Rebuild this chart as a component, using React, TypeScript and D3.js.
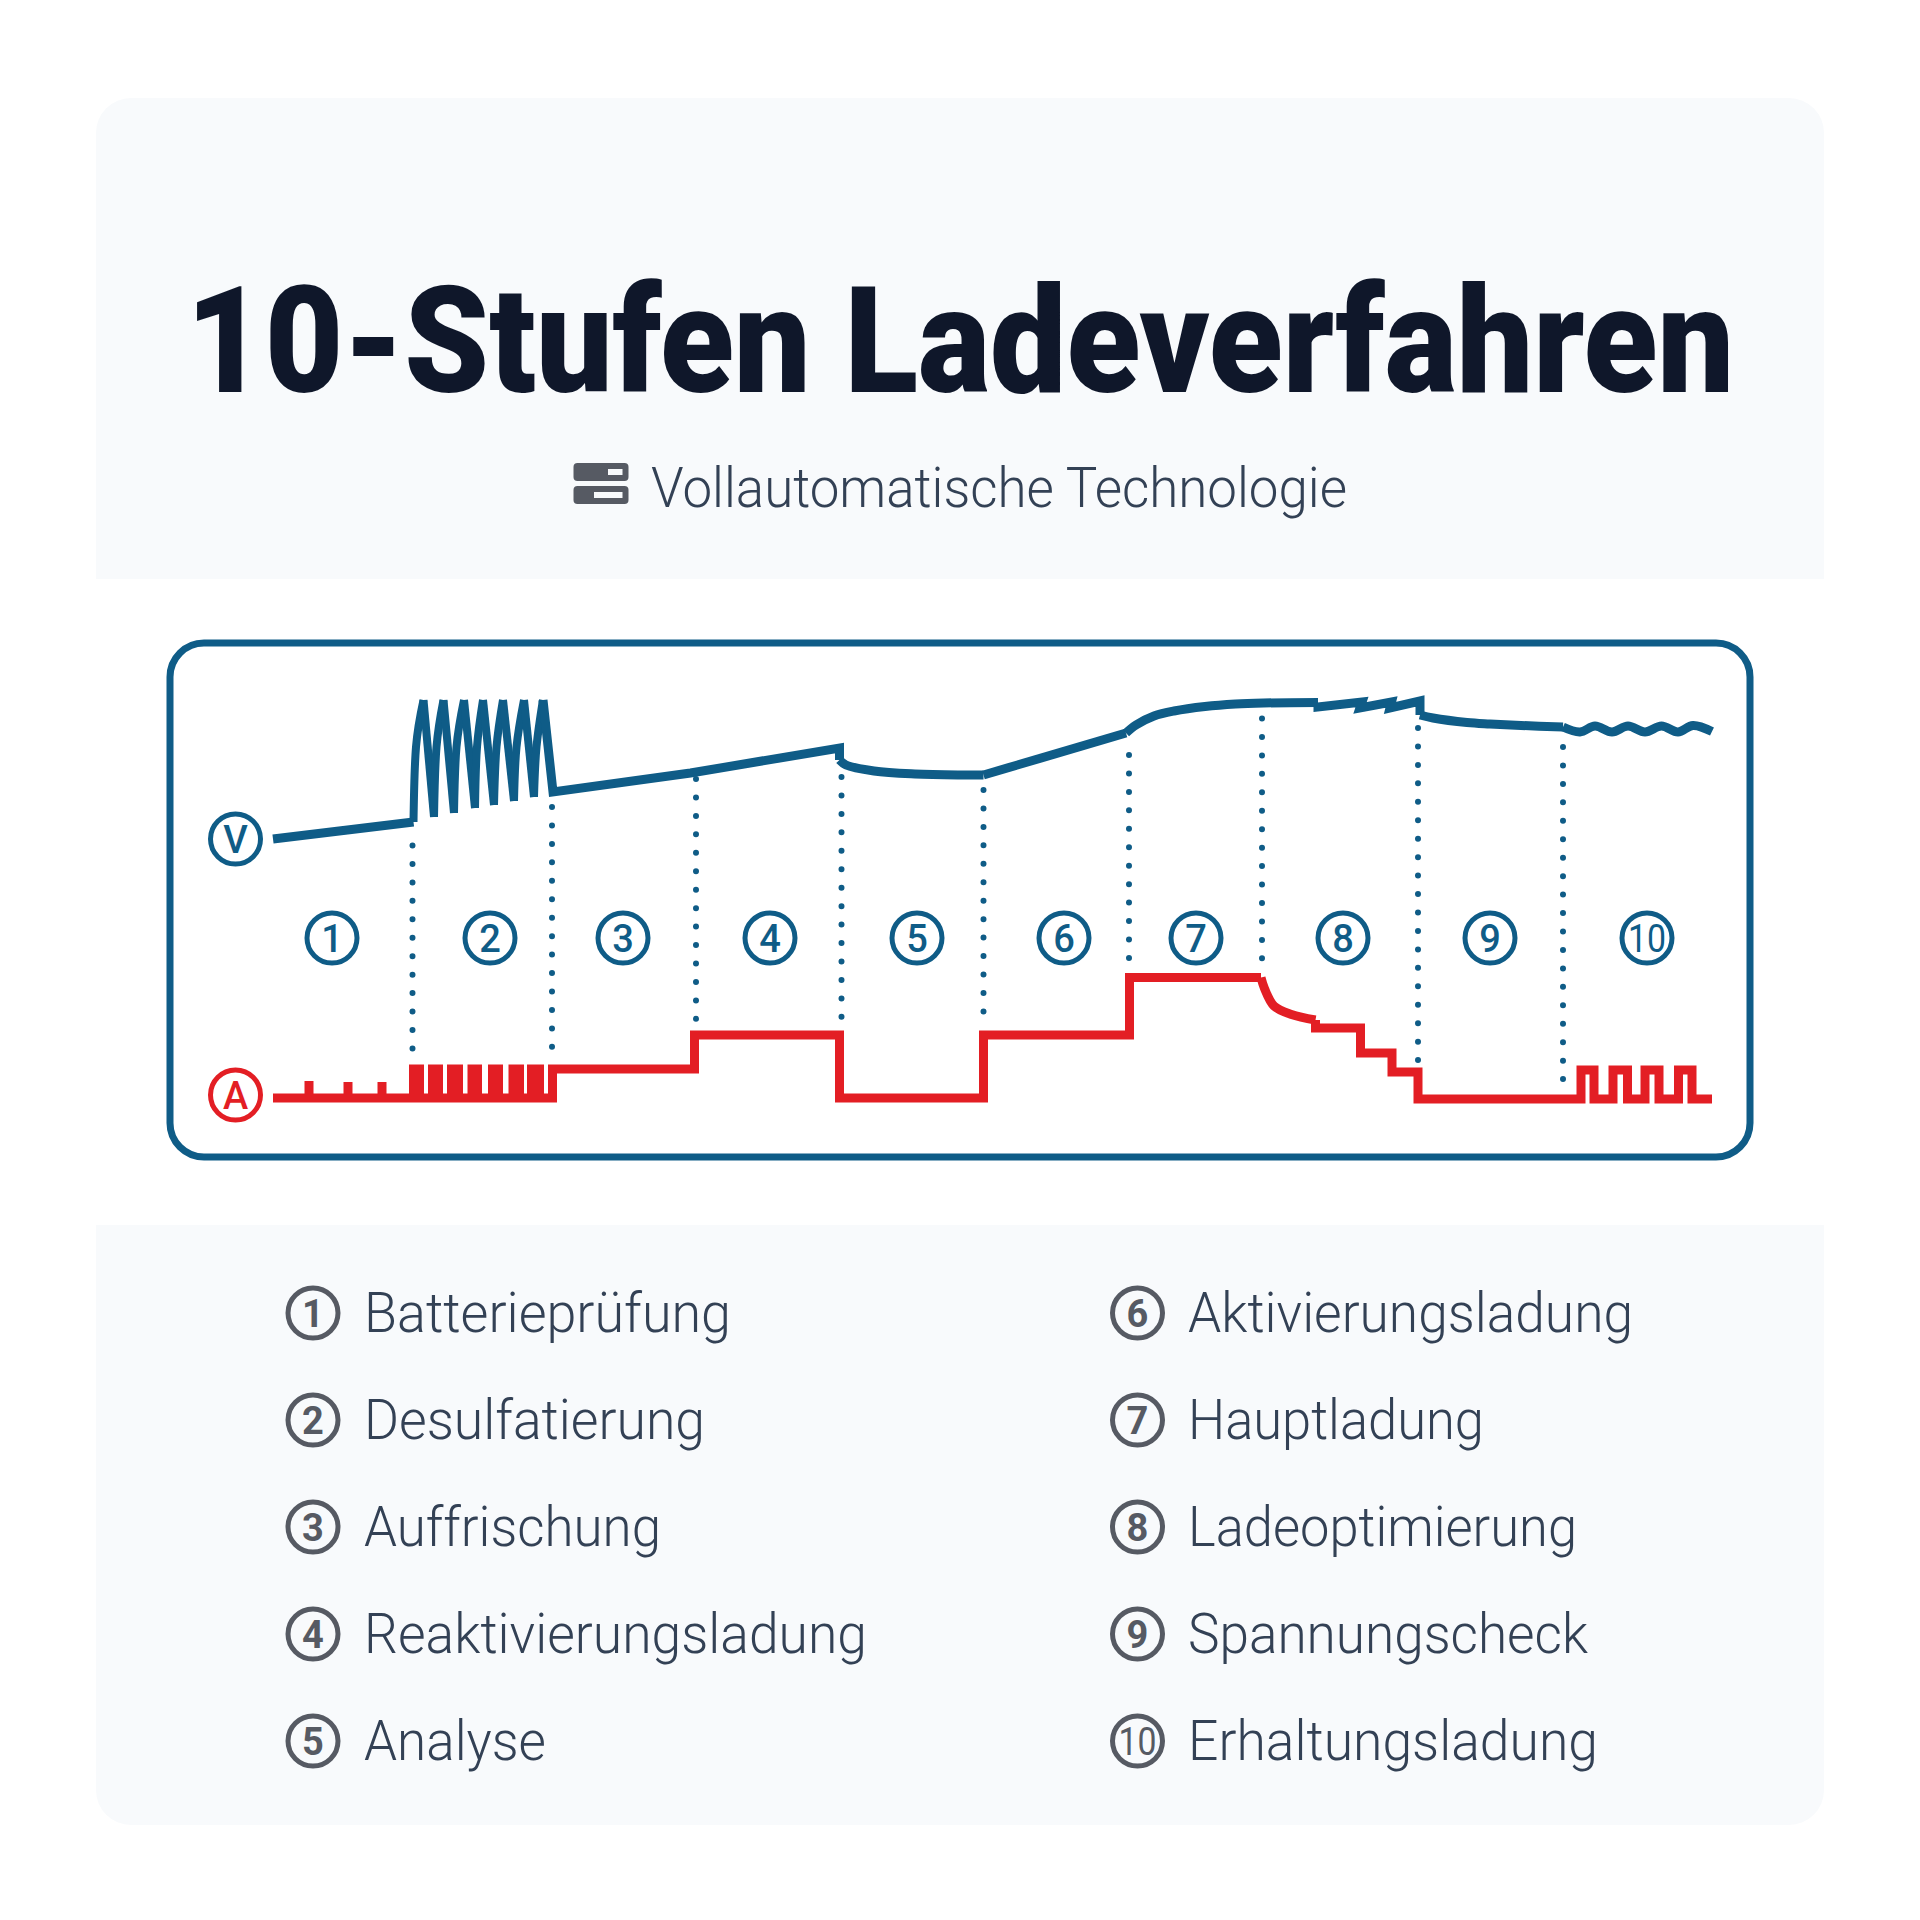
import React from "react";
import * as d3 from "d3";

type Pt = [number, number];

// stage names, left and right column of the legend
const stageNamesLeft = ["Batterieprüfung", "Desulfatierung", "Auffrischung", "Reaktivierungsladung", "Analyse"];
const stageNamesRight = ["Aktivierungsladung", "Hauptladung", "Ladeoptimierung", "Spannungscheck", "Erhaltungsladung"];
const stageBadges = ["1", "2", "3", "4", "5", "6", "7", "8", "9", "10"];

// where each badge and each divider sits on the time axis
const badgeTimes = [59, 217, 350, 497, 644, 791, 923, 1070, 1217, 1374];
const dividerTimes = [139.5, 279, 423, 568.5, 710.5, 856, 989, 1145, 1290];
const dividerTops = [845.5, 807, 779, 777, 790, 755, 718.5, 728, 747];
const dividerBottoms = [1050, 1049, 1023, 1019, 1013, 959, 959, 1062, 1081];

// voltage curve as [time, level]
const voltageTroughs: Pt[] = [[140.5, 18], [161, 23], [181, 27], [202, 32], [221, 35], [241, 39], [261, 43]];
const voltageBends: Pt[] = [[143, 93], [163.5, 93], [183.5, 93], [204, 93], [223.5, 93], [243.5, 93], [263.5, 93]];
const voltagePeaks: Pt[] = [[150.5, 140], [170.5, 140], [191, 140], [210, 140], [230, 140], [251, 140], [270, 140]];

const voltageStraight: Pt[][] = [
  [[0, 1], [140.5, 18]],
  [[270, 140], [280, 48], [417.5, 67], [566.5, 92], [566.5, 80]],
  [[710.5, 65], [853, 107]],
  [[1045, 137.5], [1045, 133], [1089, 138], [1087, 132], [1118.5, 138], [1117, 132], [1147, 139], [1147, 125]],
];
const voltageCurved: Pt[][] = [
  [[566.5, 80], [573, 75], [601, 69], [642, 66], [687, 65], [710.5, 65]],
  [[853, 107], [863, 115], [881, 124], [901, 129], [932, 133.5], [962.5, 136], [990.5, 137], [1045, 137.5]],
  [[1147, 125], [1160, 122], [1194, 117.5], [1217, 116], [1248, 114.5], [1290, 113]],
  [[1290, 113], [1307, 108], [1322, 114], [1339, 108], [1355, 114], [1372, 108], [1388.5, 114], [1405, 108], [1420, 114.5], [1439, 108.5]],
];

// current curve, same time axis
const currentTest: Pt[] = [
  [0, 2], [36, 2], [36, 19], [36, 2], [75, 2], [75, 18], [75, 2], [109, 2], [109, 18], [109, 2],
];
const currentPulses: Pt[] = [
  [140.5, 2], [140.5, 31], [146.5, 31], [146.5, 2], [159.5, 2], [159.5, 31], [165.5, 31], [165.5, 2],
  [178.5, 2], [178.5, 31], [185.5, 31], [185.5, 2], [199, 2], [199, 31], [204.5, 31], [204.5, 2],
  [219.5, 2], [219.5, 31], [225.5, 31], [225.5, 2], [240, 2], [240, 31], [246.5, 31], [246.5, 2],
  [258.5, 2], [258.5, 31], [266.5, 31], [266.5, 2], [279.5, 2],
];
const currentSteps: Pt[] = [
  [279.5, 31], [421.5, 31], [421.5, 65], [566.5, 65], [566.5, 2], [710.5, 2], [710.5, 65], [856.5, 65],
  [856.5, 122.5], [988, 122.5],
];
const currentBend: Pt[] = [[988, 122.5], [991.5, 111.5], [1001, 94], [1018.5, 85.5], [1042.5, 80]];
const currentTaper: Pt[] = [
  [1042.5, 80], [1042.5, 72], [1087.5, 72], [1087.5, 47], [1119, 47], [1119, 28], [1145, 28], [1145, 1],
];
const currentFloat: Pt[] = [
  [1308, 1], [1308, 30], [1321, 30], [1321, 1], [1340, 1], [1340, 30], [1354.5, 30], [1354.5, 1],
  [1372, 1], [1372, 30], [1386, 30], [1386, 1], [1405.5, 1], [1405.5, 30], [1419, 30], [1419, 1], [1439, 1],
];

const BLUE = "#0f5c87";
const RED = "#e31e24";
const GREY = "#565a63";
const PANEL = "#f8fafc";
const TEXT = "#334155";
const FONT = "Roboto, sans-serif";
const LINE_W = 9;

const x = d3.scaleLinear().domain([0, 1439]).range([273, 1712]);
const yVolt = d3.scaleLinear().domain([0, 140]).range([840, 700]);
const yAmp = d3.scaleLinear().domain([0, 125]).range([1100, 975]);

const voltageLine = d3.line<Pt>().x((d) => x(d[0])).y((d) => yVolt(d[1]));
const voltageSmooth = d3.line<Pt>().x((d) => x(d[0])).y((d) => yVolt(d[1])).curve(d3.curveCatmullRom.alpha(0.5));
const voltageBow = d3.line<Pt>().x((d) => x(d[0])).y((d) => yVolt(d[1])).curve(d3.curveNatural);
const currentLine = d3.line<Pt>().x((d) => x(d[0])).y((d) => yAmp(d[1]));
const currentSmooth = d3.line<Pt>().x((d) => x(d[0])).y((d) => yAmp(d[1])).curve(d3.curveCatmullRom.alpha(0.5));

// legend rows
const legendY = d3.scalePoint<number>().domain([0, 1, 2, 3, 4]).range([1313, 1741]);
const leftWidths = [367, 341, 297, 503, 182];
const rightWidths = [445, 296, 389, 400, 410];

const Badge = ({ cx, cy, label, color, len, weight = 500 }: { cx: number; cy: number; label: string; color: string; len?: number; weight?: number }) => (
  <g>
    <circle cx={cx} cy={cy} r={25} fill="none" stroke={color} strokeWidth={5} />
    <text
      x={cx}
      y={cy + 13.5}
      textAnchor="middle"
      fontFamily={FONT}
      fontWeight={label === "10" ? 400 : weight}
      fontSize={38}
      fill={color}
      textLength={len}
      lengthAdjust={len ? "spacingAndGlyphs" : undefined}
    >
      {label}
    </text>
  </g>
);

const LegendRows = ({ names, widths, first, cx, tx }: { names: string[]; widths: number[]; first: number; cx: number; tx: number }) => (
  <g>
    {names.map((name, i) => (
      <g key={name}>
        <Badge cx={cx} cy={legendY(i)!} label={stageBadges[first + i]} color={GREY} weight={700} len={stageBadges[first + i] === "10" ? 38 : undefined} />
        <text
          x={tx}
          y={legendY(i)! + 19}
          fontFamily={FONT}
          fontWeight={300}
          fontSize={55}
          fill={TEXT}
          textLength={widths[i]}
          lengthAdjust="spacingAndGlyphs"
        >
          {name}
        </text>
      </g>
    ))}
  </g>
);

export default function App() {
  const currentHead = [...currentTest, ...currentPulses, ...currentSteps];
  const currentTail = [...currentTaper, ...currentFloat];
  const voltStroke = { fill: "none", stroke: BLUE, strokeWidth: LINE_W, strokeLinejoin: "miter" as const, strokeMiterlimit: 2 };
  const pulseStroke = { ...voltStroke, strokeWidth: 8 };
  const ampStroke = { fill: "none", stroke: RED, strokeWidth: LINE_W, strokeLinejoin: "miter" as const, strokeMiterlimit: 2 };

  return (
    <svg width={1920} height={1920} style={{ position: "absolute", left: 0, top: 0, background: "#fff" }}>
      {/* header and legend panels */}
      <path d="M96 579V133a35 35 0 0 1 35-35H1789a35 35 0 0 1 35 35V579Z" fill={PANEL} />
      <path d="M96 1225H1824V1790a35 35 0 0 1-35 35H131a35 35 0 0 1-35-35Z" fill={PANEL} />

      <text
        x={186}
        y={392}
        fontFamily={FONT}
        fontWeight={900}
        fontSize={148}
        fill="#0f172a"
        textLength={1548}
        lengthAdjust="spacingAndGlyphs"
      >
        10-Stufen Ladeverfahren
      </text>

      {/* small switch icon */}
      <g fill={GREY}>
        <rect x={573.5} y={463} width={55} height={18} rx={4} />
        <rect x={573.5} y={486} width={55} height={18} rx={4} />
      </g>
      <g fill={PANEL}>
        <rect x={608} y={469} width={14.5} height={6} />
        <rect x={594} y={492} width={28.5} height={6} />
      </g>
      <text
        x={651}
        y={507}
        fontFamily={FONT}
        fontWeight={300}
        fontSize={56}
        fill={TEXT}
        textLength={696}
        lengthAdjust="spacingAndGlyphs"
      >
        Vollautomatische Technologie
      </text>

      {/* chart frame */}
      <rect x={170} y={643} width={1580} height={514} rx={34} fill="#fff" stroke={BLUE} strokeWidth={7} />

      {dividerTimes.map((t, i) => (
        <line
          key={t}
          x1={x(t)}
          x2={x(t)}
          y1={dividerTops[i]}
          y2={dividerBottoms[i]}
          stroke={BLUE}
          strokeWidth={6}
          strokeLinecap="round"
          strokeDasharray="0 18.45"
        />
      ))}

      {/* desulfation pulses: bowed rise, straight fall */}
      {voltagePeaks.map((peak, i) => (
        <g key={peak[0]}>
          <path d={voltageBow([voltageTroughs[i], voltageBends[i], peak])!} {...pulseStroke} />
          {i < voltagePeaks.length - 1 && <path d={voltageLine([peak, voltageTroughs[i + 1]])!} {...pulseStroke} />}
        </g>
      ))}
      {voltageStraight.map((piece) => (
        <path key={piece[0][0]} d={voltageLine(piece)!} {...voltStroke} />
      ))}
      {voltageCurved.map((piece) => (
        <path key={piece[0][0]} d={voltageSmooth(piece)!} {...voltStroke} />
      ))}

      <path d={currentLine(currentHead)!} {...ampStroke} />
      <path d={currentSmooth(currentBend)!} {...ampStroke} />
      <path d={currentLine(currentTail)!} {...ampStroke} />

      <Badge cx={235.5} cy={839} label="V" color={BLUE} weight={500} />
      <Badge cx={235.5} cy={1095} label="A" color={RED} weight={500} />
      {stageBadges.map((b, i) => (
        <Badge key={b} cx={x(badgeTimes[i])} cy={938} label={b} color={BLUE} len={b === "10" ? 38 : undefined} />
      ))}

      <LegendRows names={stageNamesLeft} widths={leftWidths} first={0} cx={313} tx={364} />
      <LegendRows names={stageNamesRight} widths={rightWidths} first={5} cx={1137.5} tx={1188} />
    </svg>
  );
}
